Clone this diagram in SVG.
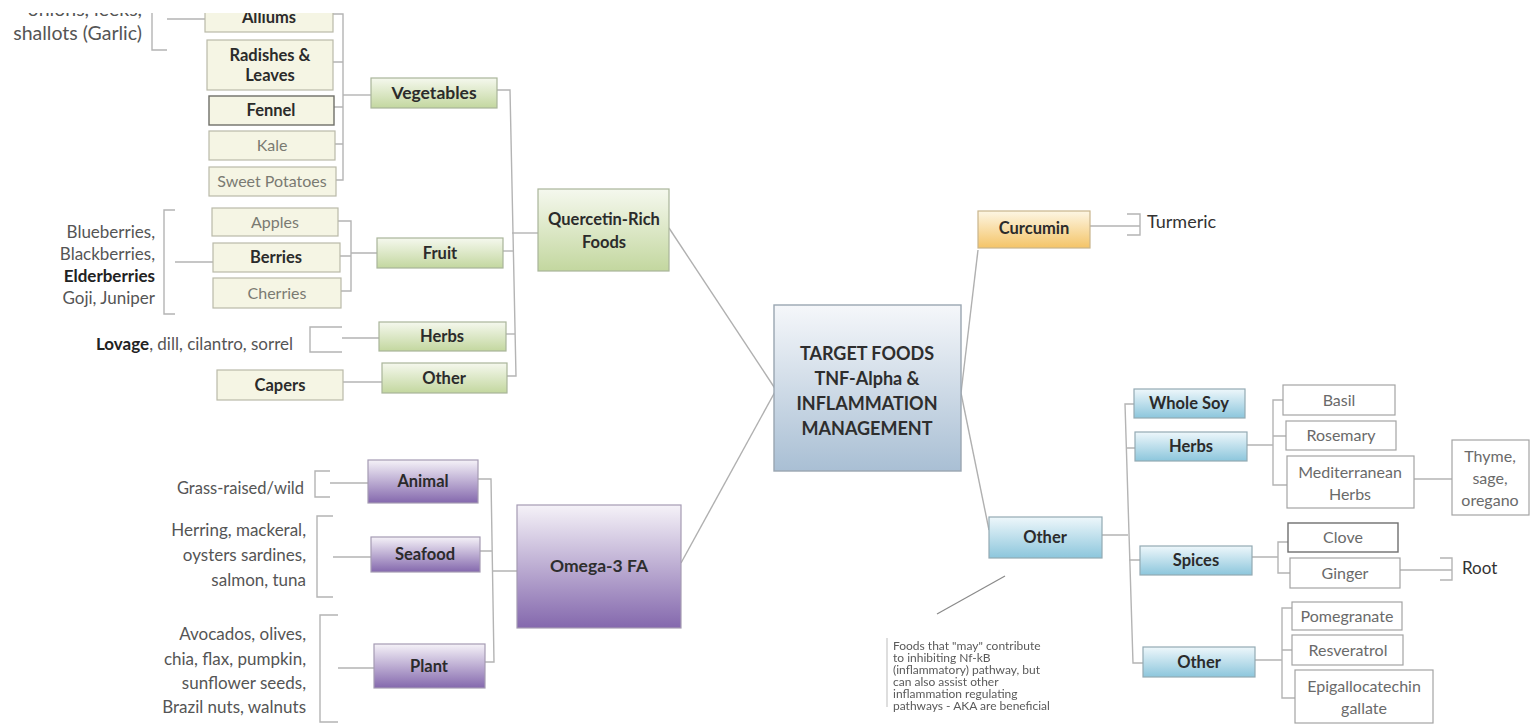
<svg xmlns="http://www.w3.org/2000/svg" width="1531" height="728" viewBox="0 0 1531 728">
  <defs>
    <linearGradient id="gGreen" x1="0" y1="0" x2="0" y2="1">
      <stop offset="0" stop-color="#f5f8ee"/>
      <stop offset="1" stop-color="#c3d79f"/>
    </linearGradient>
    <linearGradient id="gPurple" x1="0" y1="0" x2="0" y2="1">
      <stop offset="0" stop-color="#f5f2f8"/>
      <stop offset="1" stop-color="#8468ad"/>
    </linearGradient>
    <linearGradient id="gBlue" x1="0" y1="0" x2="0" y2="1">
      <stop offset="0" stop-color="#eef7fb"/>
      <stop offset="1" stop-color="#8cc6dc"/>
    </linearGradient>
    <linearGradient id="gOrange" x1="0" y1="0" x2="0" y2="1">
      <stop offset="0" stop-color="#fdf6e4"/>
      <stop offset="1" stop-color="#f4c467"/>
    </linearGradient>
    <linearGradient id="gCenter" x1="0" y1="0" x2="0" y2="1">
      <stop offset="0" stop-color="#f5f7fa"/>
      <stop offset="1" stop-color="#a9bfd4"/>
    </linearGradient>
    <filter id="soft" x="-5%" y="-5%" width="110%" height="110%">
      <feGaussianBlur stdDeviation="0.45"/>
    </filter>
    <style>
      text { font-family: Lato, "Liberation Sans", sans-serif; }
      .cn { fill: none; stroke: #b4b4b4; stroke-width: 1.4; }
      .main { fill: none; stroke: #b0b0b0; stroke-width: 1.4; }
      .green { fill: url(#gGreen); stroke: #a9b59a; stroke-width: 1.2; }
      .purple { fill: url(#gPurple); stroke: #a59bb3; stroke-width: 1.2; }
      .blue { fill: url(#gBlue); stroke: #93aab3; stroke-width: 1.2; }
      .orange { fill: url(#gOrange); stroke: #c9b58c; stroke-width: 1.2; }
      .center { fill: url(#gCenter); stroke: #9aa6b1; stroke-width: 1.4; }
      .cream { fill: #f5f5e4; stroke: #b9b9a9; stroke-width: 1.2; }
      .creamdk { fill: #f5f5e4; stroke: #6f6f68; stroke-width: 1.4; }
      .white { fill: #ffffff; stroke: #a4a4a4; stroke-width: 1.2; }
      .whitedk { fill: #ffffff; stroke: #6f6f6f; stroke-width: 1.4; }
      .lb { font-weight: 700; font-size: 16.5px; fill: #2b2b2b; text-anchor: middle; }
      .lg { font-size: 16px; fill: #7a7a72; text-anchor: middle; }
      .lw { font-size: 16px; fill: #6a6a6a; text-anchor: middle; }
      .side { font-size: 17px; fill: #555; text-anchor: end; }
      .sideb { font-weight: 700; fill: #222; }
      .note { font-size: 12px; fill: #5a5a5a; }
      .hub { font-weight: 700; font-size: 18px; fill: #2e2e2e; text-anchor: middle; }
    </style>
  </defs>

  <rect width="1531" height="728" fill="#ffffff"/>

  <!-- connectors -->
  <g id="connectors">
    <!-- root branches -->
    <path class="main" d="M669,228 L776,390"/>
    <path class="main" d="M681,563 L776,390"/>
    <path class="main" d="M961,393 L978,250"/>
    <path class="main" d="M961,393 L989,530"/>

    <!-- Quercetin-Rich Foods -->
    <path class="cn" d="M497,90 H510 L516,376 H507"/>
    <path class="cn" d="M503,251 H513"/>
    <path class="cn" d="M506,334 H515"/>
    <path class="cn" d="M512,233 H538"/>

    <!-- Vegetables -->
    <path class="cn" d="M333,14 H343 V180 H336"/>
    <path class="cn" d="M333,62 H343 M334,107 H343 M335,144 H343"/>
    <path class="cn" d="M343,95 H371"/>
    <path class="cn" d="M167,12 H152 V50 H167 M167,19 H205"/>

    <!-- Fruit -->
    <path class="cn" d="M338,221 H351 V291 H341 M340,256 H351 M351,253 H377"/>
    <path class="cn" d="M175,210 H164 V314 H175 M175,262 H213"/>

    <!-- Herbs / Other (green) -->
    <path class="cn" d="M342,327 H310 V352 H342 M342,338 H379"/>
    <path class="cn" d="M343,382 H382"/>

    <!-- Omega-3 FA -->
    <path class="cn" d="M478,479 H491 L494,662 H485 M480,551 H492 M493,571 H517"/>
    <path class="cn" d="M330,471 H315 V497 H330 M330,483 H368"/>
    <path class="cn" d="M333,516 H317 V597 H333 M333,557 H371"/>
    <path class="cn" d="M338,615 H320 V722 H338 M338,668 H374"/>

    <!-- Curcumin -->
    <path class="cn" d="M1090,226 H1140 M1127,214 H1140 V235 H1127"/>

    <!-- Other (blue) -->
    <path class="cn" d="M1134,404 H1125 L1133,663 H1143"/>
    <path class="cn" d="M1126,448 H1135 M1129,560 H1140 M1102,535 H1128"/>
    <path class="cn" d="M1283,400 H1273 V485 H1287 M1273,436 H1286 M1247,445 H1273"/>
    <path class="cn" d="M1288,542 H1278 V573 H1290 M1252,557 H1278"/>
    <path class="cn" d="M1292,608 H1282 V698 H1295 M1282,650 H1292 M1255,660 H1282"/>
    <path class="cn" d="M1414,479 H1452"/>
    <path class="cn" d="M1400,570 H1452 M1440,558 H1452 V580 H1440"/>

    <!-- note pointer -->
    <path d="M937,614 L1005,576" stroke="#8a8a8a" stroke-width="1.2" fill="none"/>
  </g>

  <!-- root -->
  <g id="root">
    <rect class="center" x="774" y="305" width="187" height="166"/>
    <text class="hub" x="867" y="360">TARGET FOODS</text>
    <text class="hub" x="867" y="385">TNF-Alpha &amp;</text>
    <text class="hub" x="867" y="410">INFLAMMATION</text>
    <text class="hub" x="867" y="435">MANAGEMENT</text>
  </g>

  <!-- Quercetin branch -->
  <g id="quercetin">
    <rect class="green" x="538" y="189" width="131" height="82"/>
    <text class="lb" x="604" y="225">Quercetin-Rich</text>
    <text class="lb" x="604" y="248">Foods</text>
  </g>
  <g id="vegetables">
    <rect class="green" x="371" y="78" width="126" height="30"/>
    <text class="lb" x="434" y="99" style="font-size:17.5px">Vegetables</text>
  </g>
  <g id="fruit">
    <rect class="green" x="377" y="238" width="126" height="30"/>
    <text class="lb" x="440" y="259">Fruit</text>
  </g>
  <g id="q-herbs">
    <rect class="green" x="379" y="322" width="127" height="29"/>
    <text class="lb" x="442" y="342">Herbs</text>
  </g>
  <g id="q-other">
    <rect class="green" x="382" y="363" width="125" height="30"/>
    <text class="lb" x="444" y="384">Other</text>
  </g>

  <g id="alliums">
    <rect class="cream" x="205" y="2" width="128" height="30"/>
    <text class="lb" x="269" y="23">Alliums</text>
  </g>
  <g id="alliums-note">
    <text class="side" x="142" y="16" style="font-size:19.5px">onions, leeks,</text>
    <text class="side" x="142" y="40" style="font-size:19.5px">shallots (Garlic)</text>
  </g>
  <g id="radishes">
    <rect class="cream" x="207" y="40" width="126" height="50"/>
    <text class="lb" x="270" y="61">Radishes &amp;</text>
    <text class="lb" x="270" y="81">Leaves</text>
  </g>
  <g id="fennel">
    <rect class="creamdk" x="209" y="96" width="125" height="29"/>
    <text class="lb" x="271" y="116">Fennel</text>
  </g>
  <g id="kale">
    <rect class="cream" x="209" y="131" width="126" height="29"/>
    <text class="lg" x="272" y="151">Kale</text>
  </g>
  <g id="sweet-potatoes">
    <rect class="cream" x="209" y="167" width="127" height="29"/>
    <text class="lg" x="272" y="187">Sweet Potatoes</text>
  </g>

  <g id="apples">
    <rect class="cream" x="212" y="208" width="126" height="28"/>
    <text class="lg" x="275" y="228">Apples</text>
  </g>
  <g id="berries">
    <rect class="cream" x="213" y="243" width="127" height="29"/>
    <text class="lb" x="276" y="263">Berries</text>
  </g>
  <g id="cherries">
    <rect class="cream" x="213" y="278" width="128" height="30"/>
    <text class="lg" x="277" y="299">Cherries</text>
  </g>
  <g id="berries-note">
    <text class="side" x="155" y="238">Blueberries,</text>
    <text class="side" x="155" y="260">Blackberries,</text>
    <text class="side sideb" x="155" y="282">Elderberries</text>
    <text class="side" x="155" y="304">Goji, Juniper</text>
  </g>
  <g id="herbs-note">
    <text class="side" x="293" y="350"><tspan class="sideb">Lovage</tspan>, dill, cilantro, sorrel</text>
  </g>
  <g id="capers">
    <rect class="cream" x="217" y="370" width="126" height="30"/>
    <text class="lb" x="280" y="391">Capers</text>
  </g>

  <!-- Omega-3 branch -->
  <g id="omega3">
    <rect class="purple" x="517" y="505" width="164" height="123"/>
    <text x="599" y="572" style="font-weight:700;font-size:17.5px;fill:#2e2e2e;text-anchor:middle">Omega-3 FA</text>
  </g>
  <g id="animal">
    <rect class="purple" x="368" y="460" width="110" height="43"/>
    <text class="lb" x="423" y="487">Animal</text>
  </g>
  <g id="seafood">
    <rect class="purple" x="371" y="537" width="109" height="35"/>
    <text class="lb" x="425" y="560">Seafood</text>
  </g>
  <g id="plant">
    <rect class="purple" x="374" y="644" width="111" height="44"/>
    <text class="lb" x="429" y="672">Plant</text>
  </g>
  <g id="animal-note">
    <text class="side" x="304" y="494" style="font-size:16.5px">Grass-raised/wild</text>
  </g>
  <g id="seafood-note">
    <text class="side" x="306" y="536">Herring, mackeral,</text>
    <text class="side" x="306" y="561">oysters sardines,</text>
    <text class="side" x="306" y="586">salmon, tuna</text>
  </g>
  <g id="plant-note">
    <text class="side" x="306" y="640">Avocados, olives,</text>
    <text class="side" x="306" y="665">chia, flax, pumpkin,</text>
    <text class="side" x="306" y="689">sunflower seeds,</text>
    <text class="side" x="306" y="713">Brazil nuts, walnuts</text>
  </g>

  <!-- Curcumin branch -->
  <g id="curcumin">
    <rect class="orange" x="978" y="211" width="112" height="37"/>
    <text class="lb" x="1034" y="234">Curcumin</text>
  </g>
  <g id="turmeric">
    <text x="1147" y="228" style="font-size:18px;fill:#333">Turmeric</text>
  </g>

  <!-- Other branch -->
  <g id="other">
    <rect class="blue" x="989" y="517" width="113" height="41"/>
    <text class="lb" x="1045" y="543">Other</text>
  </g>
  <g id="whole-soy">
    <rect class="blue" x="1134" y="389" width="111" height="29"/>
    <text class="lb" x="1189" y="409">Whole Soy</text>
  </g>
  <g id="o-herbs">
    <rect class="blue" x="1135" y="432" width="112" height="29"/>
    <text class="lb" x="1191" y="452">Herbs</text>
  </g>
  <g id="spices">
    <rect class="blue" x="1140" y="546" width="112" height="29"/>
    <text class="lb" x="1196" y="566">Spices</text>
  </g>
  <g id="o-other">
    <rect class="blue" x="1143" y="647" width="112" height="30"/>
    <text class="lb" x="1199" y="668">Other</text>
  </g>

  <g id="basil">
    <rect class="white" x="1283" y="385" width="112" height="30"/>
    <text class="lw" x="1339" y="406">Basil</text>
  </g>
  <g id="rosemary">
    <rect class="white" x="1286" y="421" width="110" height="29"/>
    <text class="lw" x="1341" y="441">Rosemary</text>
  </g>
  <g id="mediterranean">
    <rect class="white" x="1287" y="456" width="127" height="52"/>
    <text class="lw" x="1350" y="478">Mediterranean</text>
    <text class="lw" x="1350" y="500">Herbs</text>
  </g>
  <g id="thyme">
    <rect class="white" x="1452" y="440" width="77" height="75"/>
    <text class="lw" x="1490" y="462">Thyme,</text>
    <text class="lw" x="1490" y="484">sage,</text>
    <text class="lw" x="1490" y="506">oregano</text>
  </g>
  <g id="clove">
    <rect class="whitedk" x="1288" y="523" width="110" height="29"/>
    <text class="lw" x="1343" y="543">Clove</text>
  </g>
  <g id="ginger">
    <rect class="white" x="1290" y="558" width="110" height="30"/>
    <text class="lw" x="1345" y="579">Ginger</text>
  </g>
  <g id="root-note">
    <text x="1462" y="574" style="font-size:17px;fill:#333">Root</text>
  </g>
  <g id="pomegranate">
    <rect class="white" x="1292" y="602" width="110" height="28"/>
    <text class="lw" x="1347" y="622">Pomegranate</text>
  </g>
  <g id="resveratrol">
    <rect class="white" x="1292" y="635" width="111" height="30"/>
    <text class="lw" x="1348" y="656">Resveratrol</text>
  </g>
  <g id="egcg">
    <rect class="white" x="1295" y="670" width="138" height="53"/>
    <text class="lw" x="1364" y="692">Epigallocatechin</text>
    <text class="lw" x="1364" y="714">gallate</text>
  </g>

  <!-- annotation -->
  <g id="annotation" filter="url(#soft)">
    <path d="M887,638 V707" stroke="#c8c8c8" stroke-width="1.2"/>
    <text class="note" x="893" y="650">Foods that "may" contribute</text>
    <text class="note" x="893" y="662">to inhibiting Nf-kB</text>
    <text class="note" x="893" y="674">(inflammatory) pathway, but</text>
    <text class="note" x="893" y="686">can also assist other</text>
    <text class="note" x="893" y="698">inflammation regulating</text>
    <text class="note" x="893" y="710">pathways - AKA are beneficial</text>
  </g>

  <!-- blank top margin over the clipped edge -->
  <rect x="0" y="0" width="1531" height="13" fill="#ffffff"/>
</svg>
